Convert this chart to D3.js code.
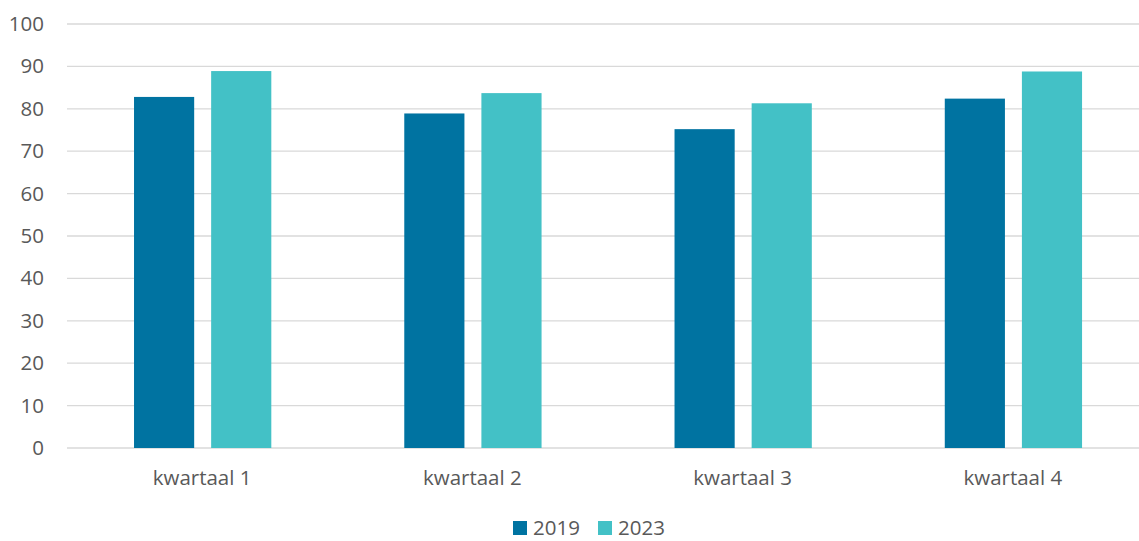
<!DOCTYPE html>
<html><head><meta charset="utf-8">
<script src="https://cdn.jsdelivr.net/npm/d3@7"></script>
<style>body{margin:0;background:#fff}svg{display:block}</style>
</head><body>
<script>
const categories = ["kwartaal 1","kwartaal 2","kwartaal 3","kwartaal 4"];
const seriesNames = ["2019","2023"];
const values2019 = [82.8, 78.9, 75.2, 82.4];
const values2023 = [88.9, 83.7, 81.3, 88.8];
const yTicks = [0,10,20,30,40,50,60,70,80,90,100];
const colors = ["#0073A1","#43C1C6"];

const W = 1139, H = 541;
const m = {left:67, top:24, bottom:93};
const xRight = 1148;
const svg = d3.select("body").append("svg").attr("width",W).attr("height",H);
const font = "'Open Sans', 'Liberation Sans', sans-serif";
const fs = 20.5;

const x = d3.scaleBand().domain(categories).range([m.left, xRight]).paddingInner(0).paddingOuter(0);
const y = d3.scaleLinear().domain([0,100]).range([H-m.bottom, m.top]);
const xs = d3.scaleBand().domain(seriesNames).range([x.bandwidth()*0.248, x.bandwidth()*0.756]).paddingInner(0.22);

// gridlines
svg.append("g").selectAll("line").data(yTicks).join("line")
  .attr("x1", m.left).attr("x2", W)
  .attr("y1", d=>y(d)).attr("y2", d=>y(d))
  .attr("stroke","#d9d9d9").attr("stroke-width",1.3);

// y labels
const ya = svg.append("g").attr("transform",`translate(${m.left},0)`)
  .call(d3.axisLeft(y).tickValues(yTicks).tickSize(0).tickPadding(23));
ya.select(".domain").remove();
ya.selectAll("text").attr("font-family",font).attr("font-size",fs).attr("fill","#595959");

const data = categories.map((c,i)=>({c, v:[values2019[i], values2023[i]]}));
const g = svg.append("g").selectAll("g").data(data).join("g")
  .attr("transform", d=>`translate(${x(d.c)},0)`);
g.selectAll("rect").data(d=>d.v.map((v,j)=>({s:seriesNames[j], v, j}))).join("rect")
  .attr("x", d=>xs(d.s)).attr("width", xs.bandwidth())
  .attr("y", d=>y(d.v)).attr("height", d=>y(0)-y(d.v))
  .attr("fill", d=>colors[d.j]);

// x labels
const xa = svg.append("g").attr("transform",`translate(0,${y(0)})`)
  .call(d3.axisBottom(x).tickSize(0).tickPadding(22));
xa.select(".domain").remove();
xa.selectAll("text").attr("font-family",font).attr("font-size",fs).attr("fill","#595959");

// legend
const legX = [513, 598];
const leg = svg.append("g").selectAll("g").data(seriesNames).join("g")
  .attr("transform",(d,i)=>`translate(${legX[i]},521)`);
leg.append("rect").attr("width",14).attr("height",14).attr("fill",(d,i)=>colors[i]);
leg.append("text").attr("x",20).attr("y",14).text(d=>d)
  .attr("font-family",font).attr("font-size",fs).attr("fill","#595959");
</script>
</body></html>
